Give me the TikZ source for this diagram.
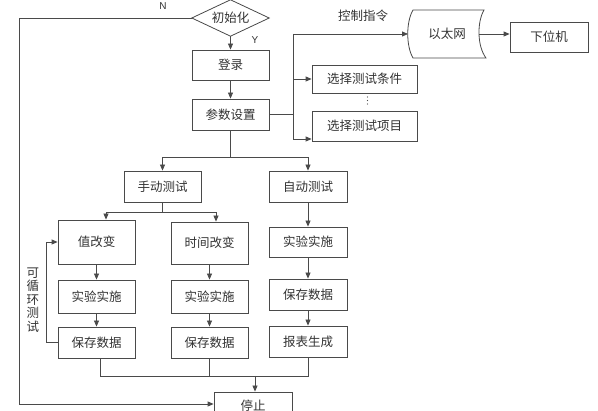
\documentclass[tikz,border=0pt]{standalone}
\usepackage{fontspec}
\setmainfont{Liberation Sans}
\newfontfamily\cjk{Noto Sans CJK SC}
\usetikzlibrary{arrows.meta,shadows,calc}
\definecolor{lc}{HTML}{4A4A4A}
\definecolor{tc}{HTML}{333333}
\tikzset{
  box/.style={draw=lc, line width=0.8pt, fill=white, inner sep=0pt,
    font=\cjk\fontsize{12.5}{14}\selectfont, text=tc,
    drop shadow={shadow xshift=1.2pt, shadow yshift=-1.2pt, opacity=0.3}},
  ln/.style={draw=lc, line width=0.8pt},
  arr/.style={ln, -{Triangle[length=6pt,width=5pt]}},
  lbl/.style={font=\cjk\fontsize{12.5}{14}\selectfont, text=tc, inner sep=0pt},
  yn/.style={font=\fontsize{10}{11}\selectfont, text=tc, inner sep=0pt},
  dotc/.style={fill=lc},
}
\begin{document}
\begin{tikzpicture}[x=1pt,y=-1pt]
\useasboundingbox (0,0) rectangle (598,411);
\clip (0,0) rectangle (598,411);
\fill[white] (0,0) rectangle (598,411);

% diamond
\node[lbl, minimum width=77pt, minimum height=36pt] (init) at (230.5,18) {初始化};
\draw[ln] (init.north) -- (init.east) -- (init.south) -- (init.west) -- cycle;

\node[box, minimum width=77pt, minimum height=30pt] (login) at (230.5,65) {登录};
\node[box, minimum width=77pt, minimum height=31pt] (param) at (230.5,114.5) {参数设置};

% ethernet (stored data shape)
\node[lbl] (eth) at (447,34) {以太网};
\draw[ln] (413,10) -- (484,10) .. controls (477,22) and (477,46) .. (486,58)
  -- (413,58) .. controls (406,46) and (406,22) .. (413,10) -- cycle;
\coordinate (ethl) at (408,34);
\coordinate (ethr) at (479,34);

\node[box, minimum width=78pt, minimum height=30pt] (low) at (549,37) {下位机};
\node[box, minimum width=105pt, minimum height=28pt] (cond) at (364.5,79) {选择测试条件};
\node[box, minimum width=105pt, minimum height=30pt] (item) at (364.5,126) {选择测试项目};
\fill[dotc] (367.5,97) circle (0.6pt) (367.5,100.5) circle (0.6pt) (367.5,104) circle (0.6pt);
\node[lbl] (ctrl) at (363,16) {控制指令};

\node[box, minimum width=77pt, minimum height=31pt] (man) at (162.5,186.5) {手动测试};
\node[box, minimum width=78pt, minimum height=31pt] (auto) at (308,186.5) {自动测试};

\node[box, minimum width=77pt, minimum height=44pt] (val) at (96.5,242) {值改变};
\node[box, minimum width=77pt, minimum height=42pt] (time) at (209.5,243) {时间改变};
\node[box, minimum width=78pt, minimum height=30pt] (aexp) at (308,242) {实验实施};

\node[box, minimum width=77pt, minimum height=33pt] (exp1) at (96.5,296.5) {实验实施};
\node[box, minimum width=77pt, minimum height=33pt] (exp2) at (209.5,296.5) {实验实施};
\node[box, minimum width=78pt, minimum height=31pt] (asave) at (308,294.5) {保存数据};

\node[box, minimum width=77pt, minimum height=31pt] (save1) at (96.5,342.5) {保存数据};
\node[box, minimum width=77pt, minimum height=31pt] (save2) at (209.5,342.5) {保存数据};
\node[box, minimum width=78pt, minimum height=31pt] (report) at (308,341.5) {报表生成};

\node[box, minimum width=78pt, minimum height=28pt] (stop) at (253,406) {停止};

\node[yn] (N) at (163,6) {N};
\node[yn] (Y) at (255,40) {Y};
\node[lbl, align=center, font=\cjk\fontsize{12.5}{13.5}\selectfont] (loopl) at (33,300) {可\\循\\环\\测\\试};

% connectors
\draw[arr] (init.south) -- (login.north);
\draw[arr] (login) -- (param);

\coordinate (pr) at (293,114.5);
\coordinate (ptop) at (293,34);
\coordinate (pc) at (293,79);
\coordinate (pbot) at (293,139);
\draw[ln] (param.east) -- (pr);
\draw[ln] (ptop) -- (pbot);
\draw[arr] (ptop) -- (ethl);
\draw[arr] (pc) -- (pc -| cond.west);
\draw[arr] (pbot) -- (pbot -| item.west);
\draw[arr] (ethr) -- (ethr -| low.west);

\coordinate (s1) at (230.5,157);
\draw[ln] (param.south) -- (s1);
\draw[arr] (s1) -| (man.north);
\draw[arr] (s1) -| (auto.north);

\coordinate (s2) at (162.5,212);
\coordinate (va) at (106,212);
\coordinate (ta) at (216,212);
\draw[ln] (man.south) -- (s2);
\draw[arr] (s2) -- (va) -- (va |- val.north);
\draw[arr] (s2) -- (ta) -- (ta |- time.north);

\draw[arr] (val) -- (exp1);
\draw[arr] (time) -- (exp2);
\draw[arr] (exp1) -- (save1);
\draw[arr] (exp2) -- (save2);
\draw[arr] (auto) -- (aexp);
\draw[arr] (aexp) -- (asave);
\draw[arr] (asave) -- (report);

\coordinate (lp) at (46,342.5);
\draw[arr] (save1.west) -- (lp) |- (val.west);

\coordinate (b1) at (100,376);
\coordinate (b3) at (308,376);
\coordinate (b2) at (255,376);
\draw[ln] (save1.south -| b1) -- (b1) -- (b3) -- (report.south);
\draw[ln] (save2.south) -- (save2.south |- b1);
\draw[arr] (b2) -- (b2 |- stop.north);

\coordinate (nl) at (19,18);
\coordinate (nb) at (19,404);
\draw[arr] (init.west) -- (nl) -- (nb) -- (nb -| stop.west);
\end{tikzpicture}
\end{document}
